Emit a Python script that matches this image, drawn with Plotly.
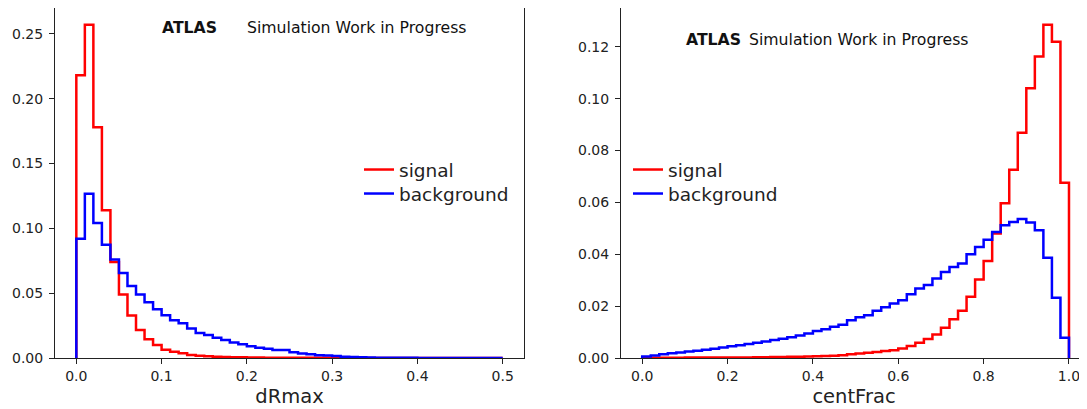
import numpy as np
import plotly.graph_objects as go

# ---------------- data ----------------
# left panel: dRmax, 50 bins from 0 to 0.5
drmax_edges_lo, drmax_edges_hi, drmax_nbins = 0.0, 0.5, 50
drmax_signal = [
    0.218, 0.257, 0.178, 0.114, 0.074, 0.049, 0.0328, 0.0215, 0.0144, 0.0100,
    0.0064, 0.0049, 0.0036, 0.0023, 0.0018, 0.0013, 0.0010, 0.0008, 0.0006, 0.0005,
    0.0003, 0.0003, 0.0002, 0.0002, 0.0002, 0.0001, 0.0001, 0.0001, 0.0001, 0.0001,
    0.0001, 0.0001, 0.0, 0.0, 0.0, 0.0, 0.0, 0.0, 0.0, 0.0,
    0.0, 0.0, 0.0, 0.0, 0.0, 0.0, 0.0, 0.0, 0.0, 0.0,
]
drmax_background = [
    0.092, 0.1267, 0.104, 0.0874, 0.0759, 0.0656, 0.0556, 0.049, 0.0430, 0.0375,
    0.0330, 0.0292, 0.0267, 0.0228, 0.0192, 0.0177, 0.0156, 0.0138, 0.0120, 0.0106,
    0.0091, 0.0079, 0.0071, 0.0062, 0.0061, 0.0045, 0.0035, 0.0028, 0.0022, 0.0019,
    0.0015, 0.0010, 0.0008, 0.0005, 0.0003, 0.0002, 0.0002, 0.0001, 0.0001, 0.0001,
    0.0, 0.0, 0.0, 0.0, 0.0, 0.0, 0.0, 0.0, 0.0, 0.0,
]

# right panel: centFrac, 50 bins from 0 to 1
cent_edges_lo, cent_edges_hi, cent_nbins = 0.0, 1.0, 50
cent_signal = [
    0.0001, 0.0001, 0.0001, 0.0001, 0.0001, 0.0002, 0.0002, 0.0002, 0.0002, 0.0002,
    0.0002, 0.0002, 0.0002, 0.0003, 0.0003, 0.0004, 0.0004, 0.0005, 0.0005, 0.0006,
    0.0007, 0.0008, 0.0009, 0.0011, 0.0014, 0.0017, 0.0020, 0.0023, 0.0027, 0.0030,
    0.0037, 0.0046, 0.0059, 0.0073, 0.0091, 0.0117, 0.0149, 0.0182, 0.0236, 0.0303,
    0.0374, 0.0480, 0.0597, 0.0726, 0.0868, 0.1040, 0.1162, 0.1285, 0.1219, 0.0676,
]
cent_background = [
    0.0006, 0.0010, 0.0014, 0.0018, 0.0021, 0.0025, 0.0028, 0.0032, 0.0036, 0.0040,
    0.0045, 0.0049, 0.0054, 0.0059, 0.0064, 0.0069, 0.0074, 0.0080, 0.0087, 0.0094,
    0.0104, 0.0111, 0.0120, 0.0128, 0.0146, 0.0157, 0.0165, 0.0182, 0.0196, 0.0210,
    0.0223, 0.0246, 0.0268, 0.0281, 0.0306, 0.0332, 0.0351, 0.0364, 0.0400, 0.0428,
    0.0456, 0.0486, 0.0512, 0.0524, 0.0536, 0.0522, 0.0492, 0.0386, 0.0232, 0.0078,
]

series_names = ["signal", "background"]
series_colors = ["#ff0000", "#0000ff"]
x_titles = ["dRmax", "centFrac"]
left_xticks = [0.0, 0.1, 0.2, 0.3, 0.4, 0.5]
left_yticks = [0.00, 0.05, 0.10, 0.15, 0.20, 0.25]
right_xticks = [0.0, 0.2, 0.4, 0.6, 0.8, 1.0]
right_yticks = [0.00, 0.02, 0.04, 0.06, 0.08, 0.10, 0.12]


def step_xy(lo, hi, n, vals):
    edges = np.linspace(lo, hi, n + 1)
    xs = [edges[0]] + list(edges)
    ys = [0.0] + list(vals) + [0.0]
    return xs, ys


# the page body has an 8px default margin: size the figure to fit the window
OFF = 8
W, H = 1087 - OFF, 409 - OFF


def px(X):
    return (X - OFF) / W


def py(Y):
    return 1 - (Y - OFF) / H


FONT = "DejaVu Sans"
fig = go.Figure()

panels = [
    ("x", "y", ["legend", "legend3"], drmax_edges_lo, drmax_edges_hi, drmax_nbins,
     [drmax_signal, drmax_background]),
    ("x2", "y2", ["legend2", "legend4"], cent_edges_lo, cent_edges_hi, cent_nbins,
     [cent_signal, cent_background]),
]
for xa, ya, lgs, lo, hi, n, vals_list in panels:
    for name, color, vals, lg in zip(series_names, series_colors, vals_list, lgs):
        xs, ys = step_xy(lo, hi, n, vals)
        fig.add_trace(go.Scatter(
            x=xs, y=ys, mode="lines", line=dict(color=color, width=2.5, shape="hv"),
            name=name, xaxis=xa, yaxis=ya, legend=lg, hoverinfo="skip", showlegend=True,
        ))

ydom = [py(358), py(8)]
axis_common = dict(
    showgrid=False, zeroline=False, showline=True, linecolor="#222222", linewidth=1.1,
    ticks="outside", ticklen=5, tickwidth=1.1, tickcolor="#222222", automargin=False,
    tickfont=dict(family=FONT, size=14, color="#222222"),
)
left_max = max(drmax_signal) * 1.05
right_max = max(cent_signal) * 1.05

legend_common = dict(
    xanchor="left", yanchor="top", bgcolor="rgba(255,255,255,0)",
    font=dict(family=FONT, size=18.5, color="#222222"),
    tracegroupgap=0, itemwidth=30, borderwidth=0,
)
title_font = dict(family=FONT, size=19.5, color="#222222")

fig.update_layout(
    width=W, height=H, margin=dict(l=0, r=0, t=0, b=0, autoexpand=False),
    paper_bgcolor="white", plot_bgcolor="white", showlegend=True,
    font=dict(family=FONT, color="#222222"),
    xaxis=dict(domain=[px(55), px(524)], range=[-0.025, 0.525], anchor="y",
               tickvals=left_xticks, tickformat=".1f", mirror=True,
               title=dict(text=x_titles[0], font=title_font, standoff=6),
               **axis_common),
    yaxis=dict(domain=ydom, range=[0, left_max], anchor="x", ticklabelstandoff=3,
               tickvals=left_yticks, tickformat=".2f", mirror=True, **axis_common),
    xaxis2=dict(domain=[px(621), 1.0], range=[-0.0497, 1.0422], anchor="y2",
                tickvals=right_xticks, tickformat=".1f", mirror=True,
                title=dict(text=x_titles[1], font=title_font, standoff=6),
                **axis_common),
    yaxis2=dict(domain=ydom, range=[0, right_max], anchor="x2", ticklabelstandoff=3,
                tickvals=right_yticks, tickformat=".2f", mirror=False, **axis_common),
    legend=dict(x=px(359), y=py(151), **legend_common),
    legend3=dict(x=px(359), y=py(175), **legend_common),
    legend2=dict(x=px(628), y=py(151), **legend_common),
    legend4=dict(x=px(628), y=py(175), **legend_common),
)

text_font = dict(family=FONT, size=15.7, color="#111111")
annots = [
    ("x domain", "y domain", 0.2245, 0.943, "<b>ATLAS</b>"),
    ("x domain", "y domain", 0.405, 0.943, "Simulation Work in Progress"),
    ("x2 domain", "y2 domain", 0.1345, 0.909, "<b>ATLAS</b>"),
    ("x2 domain", "y2 domain", 0.270, 0.909, "Simulation Work in Progress"),
]
for xr, yr, xx, yy, txt in annots:
    fig.add_annotation(xref=xr, yref=yr, x=xx, y=yy, text=txt, showarrow=False,
                       xanchor="left", yanchor="middle", font=text_font)

fig.write_html("out.html")
